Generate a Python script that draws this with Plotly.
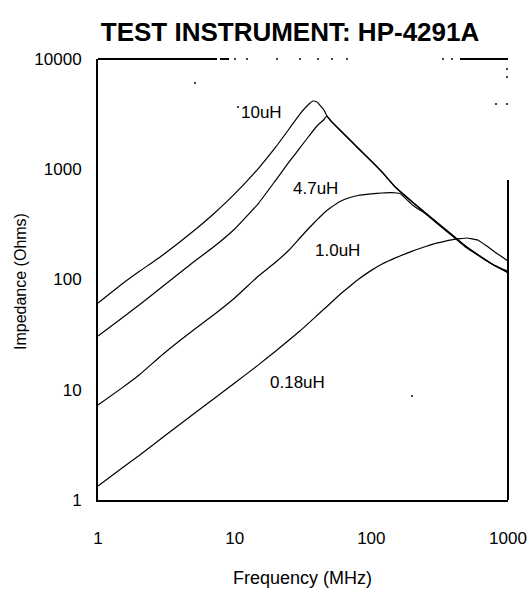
import plotly.graph_objects as go

# ---------------- data ----------------
freq_10uH = [1, 1.5, 2, 3, 5, 7, 10, 15, 20, 25, 30, 35, 37.4, 40, 45, 47, 50, 60, 70, 80, 100,
             120, 150, 200, 250, 300, 350, 400, 500, 600, 700, 800, 1000]
z_10uH = [61.2, 91.1, 118, 168, 275, 393, 597, 1026, 1592, 2317, 3170, 3909, 4160, 4074, 3447,
          3105, 2799, 2223, 1841, 1559, 1188, 944, 690, 505, 401, 332, 284, 248, 197, 169, 149,
          134, 115]

freq_4p7uH = [1, 1.5, 2, 3, 5, 7, 10, 15, 20, 25, 30, 35, 40, 45, 47, 50, 60, 70, 80, 100,
              120, 150, 200, 250, 300, 350, 400, 500, 600, 700, 800, 1000]
z_4p7uH = [30.7, 44.8, 58.7, 87.3, 144, 197, 287, 494, 798, 1164, 1559, 2003, 2467, 2827, 3041,
           2780, 2210, 1830, 1550, 1180, 938, 686, 502, 399, 330, 282, 246, 196, 168, 148, 133, 116]

freq_1uH = [1, 1.5, 2, 3, 5, 7, 10, 15, 20, 25, 30, 35, 40, 45, 50, 60, 70, 80, 100, 120, 140,
            162, 200, 250, 300, 350, 400, 500, 600, 700, 800, 1000]
z_1uH = [7.27, 10.4, 13.6, 21.1, 34.8, 47.6, 68.0, 108, 144, 185, 238, 293, 347, 401, 445,
         515, 554, 578, 597, 609, 615, 603, 474, 393, 325, 278, 243, 193, 167, 147, 134, 119]

freq_0p18uH = [1, 1.5, 2, 3, 5, 7, 10, 15, 20, 30, 40, 50, 60, 70, 80, 100, 120, 150, 200, 250,
               300, 350, 400, 450, 500, 600, 700, 800, 1000]
z_0p18uH = [1.34, 1.95, 2.53, 3.73, 6.03, 8.24, 11.5, 16.9, 22.5, 34.1, 47.1, 60.6, 74.6, 87.3,
            100, 121, 138, 157, 181, 199, 214, 223, 231, 235, 238, 228, 201, 178, 147]

curve_names = ["10uH", "4.7uH", "1.0uH", "0.18uH"]
x_ticks = [1, 10, 100, 1000]
x_tick_text = ["1", "10", "100", "1000"]
y_ticks = [1, 10, 100, 1000, 10000]
y_tick_text = ["1", "10", "100", "1000", "10000"]

# ---------------- layout geometry ----------------
W, H = 528, 589
L, R, T, B = 98, 508, 59, 500   # plot area in pixels


def px(x):
    return (x - L) / (R - L)


def py(y):
    return (B - y) / (B - T)


FONT = "Liberation Sans, Arial, sans-serif"

fig = go.Figure()
series = [(freq_10uH, z_10uH), (freq_4p7uH, z_4p7uH), (freq_1uH, z_1uH), (freq_0p18uH, z_0p18uH)]
for name, (f, z) in zip(curve_names, series):
    fig.add_trace(go.Scatter(x=f, y=z, mode="lines", name=name,
                             line=dict(color="black", width=1.2, shape="spline", smoothing=0.4),
                             showlegend=False, hoverinfo="skip"))

# curve labels
label_pos = {"10uH": (261, 112), "4.7uH": (315, 188), "1.0uH": (337, 250), "0.18uH": (297, 382)}
annotations = []
for name in curve_names:
    x0, y0 = label_pos[name]
    annotations.append(dict(x=px(x0), y=py(y0), xref="paper", yref="paper", text=name,
                            showarrow=False, font=dict(family=FONT, size=17, color="black"),
                            xanchor="center", yanchor="middle"))

# axis titles
annotations.append(dict(x=px(302), y=py(578), xref="paper", yref="paper", text="Frequency (MHz)",
                        showarrow=False, font=dict(family=FONT, size=18, color="black"),
                        xanchor="center", yanchor="middle"))
annotations.append(dict(x=px(20), y=py(282), xref="paper", yref="paper", text="Impedance (Ohms)",
                        showarrow=False, textangle=-90, font=dict(family=FONT, size=16, color="black"),
                        xanchor="center", yanchor="middle"))

# broken frame (top & right), as in the scanned reference
shapes = []
line_style = dict(color="black", width=2)
shapes.append(dict(type="line", xref="paper", yref="paper", x0=px(L), x1=px(217), y0=1, y1=1, line=line_style))
shapes.append(dict(type="line", xref="paper", yref="paper", x0=px(220), x1=px(229), y0=1, y1=1, line=line_style))
shapes.append(dict(type="line", xref="paper", yref="paper", x0=px(460), x1=px(R), y0=1, y1=1, line=line_style))
shapes.append(dict(type="line", xref="paper", yref="paper", x0=1, x1=1, y0=0, y1=py(180), line=line_style))
dots = [(235, 59), (247, 59), (277, 59), (300, 59), (318, 59), (332, 59), (347, 59),
        (443, 59), (452, 59), (507, 69), (507, 77), (496, 104), (507, 104),
        (195, 83), (238, 107), (412, 396)]
for (dx, dy) in dots:
    shapes.append(dict(type="circle", xref="paper", yref="paper",
                       x0=px(dx - 1), x1=px(dx + 1), y0=py(dy + 1), y1=py(dy - 1),
                       fillcolor="black", line=dict(width=0)))

fig.update_layout(
    width=W, height=H,
    margin=dict(l=L, r=W - R, t=T, b=H - B, autoexpand=False),
    paper_bgcolor="white", plot_bgcolor="white",
    title=dict(text="<b>TEST INSTRUMENT: HP-4291A</b>", x=290 / W, xref="container", xanchor="center",
               y=1 - 32 / H, yref="container", yanchor="middle",
               font=dict(family=FONT, size=26, color="black")),
    xaxis=dict(type="log", range=[0, 3], tickvals=x_ticks, ticktext=x_tick_text, automargin=False,
               showgrid=False, zeroline=False, showline=True, linecolor="black", linewidth=2,
               ticks="", ticklabelstandoff=22, tickfont=dict(family=FONT, size=17, color="black")),
    yaxis=dict(type="log", range=[0, 4], tickvals=y_ticks, ticktext=y_tick_text, automargin=False,
               showgrid=False, zeroline=False, showline=True, linecolor="black", linewidth=2,
               ticks="", ticklabelstandoff=11, tickfont=dict(family=FONT, size=17, color="black")),
    annotations=annotations,
    shapes=shapes,
    showlegend=False,
)

fig.write_html("out.html")
